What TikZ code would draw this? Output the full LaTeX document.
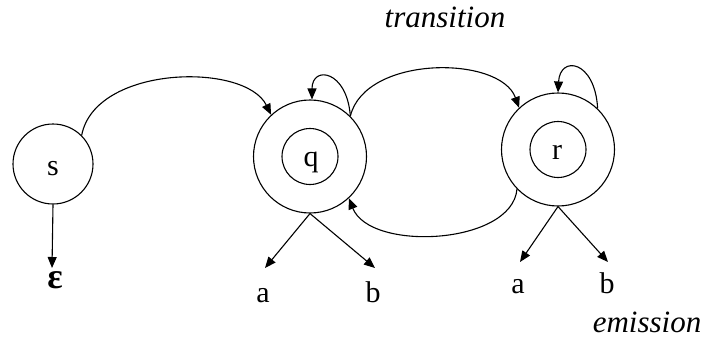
\documentclass[tikz,border=0pt]{standalone}
\usepackage{fontspec}
\setmainfont{Liberation Serif}
\usetikzlibrary{arrows.meta}
\begin{document}
\begin{tikzpicture}[x=1pt,y=-1pt,
  state/.style={circle,draw,line width=1.1pt,inner sep=0pt},
  txt/.style={inner sep=0pt,anchor=base,font=\fontsize{30}{36}\selectfont},
  itxt/.style={inner sep=0pt,anchor=base,font=\fontsize{31}{37}\selectfont\itshape},
  arr/.style={line width=1.1pt,-{Triangle[length=11pt,width=9pt]}}]
\useasboundingbox (0,0) rectangle (708,350);
% states
\node[state,minimum size=80pt] (s) at (53,164) {};
\node[state,minimum size=113pt] (q) at (310,156.5) {};
\node[state,minimum size=56pt] (qi) at (310,156.5) {};
\node[state,minimum size=113pt] (r) at (558,149.5) {};
\node[state,minimum size=56pt] (ri) at (558,149.5) {};
\node[txt] (st) at (53,175) {s};
\node[txt] (qt) at (311,166) {q};
\node[txt] (rt) at (557,159) {r};
% titles
\node[itxt] (trans) at (445,28) {transition};
\node[itxt] (emis) at (647,332) {emission};
% emission symbols
\node[txt,font=\fontsize{36}{40}\selectfont\bfseries] (eps) at (55,288) {ε};
\node[txt] (qa) at (263,302) {a};
\node[txt] (qb) at (373,302) {b};
\node[txt] (ra) at (518,293) {a};
\node[txt] (rb) at (607,293) {b};
\coordinate (epstip) at (52,268);
\coordinate (qatip) at (265,268);
\coordinate (qbtip) at (375,268);
\coordinate (ratip) at (520,262);
\coordinate (rbtip) at (608,262);
% transitions
\draw[arr] (s.45) .. controls (95,65) and (245,62) .. (q.133);
\draw[arr] (q.45) .. controls (347,70) and (312,65) .. (q.88);
\draw[arr] (q.45) .. controls (365,55) and (500,55) .. (r.133);
\draw[arr] (r.46) .. controls (595,60) and (560,55) .. (r.90);
\draw[arr] (r.224) .. controls (512,245) and (370,252) .. (q.313);
% emissions
\draw[arr] (s.south) -- (epstip);
\draw[arr] (q.south) -- (qatip);
\draw[arr] (q.south) -- (qbtip);
\draw[arr] (r.south) -- (ratip);
\draw[arr] (r.south) -- (rbtip);
\end{tikzpicture}
\end{document}
